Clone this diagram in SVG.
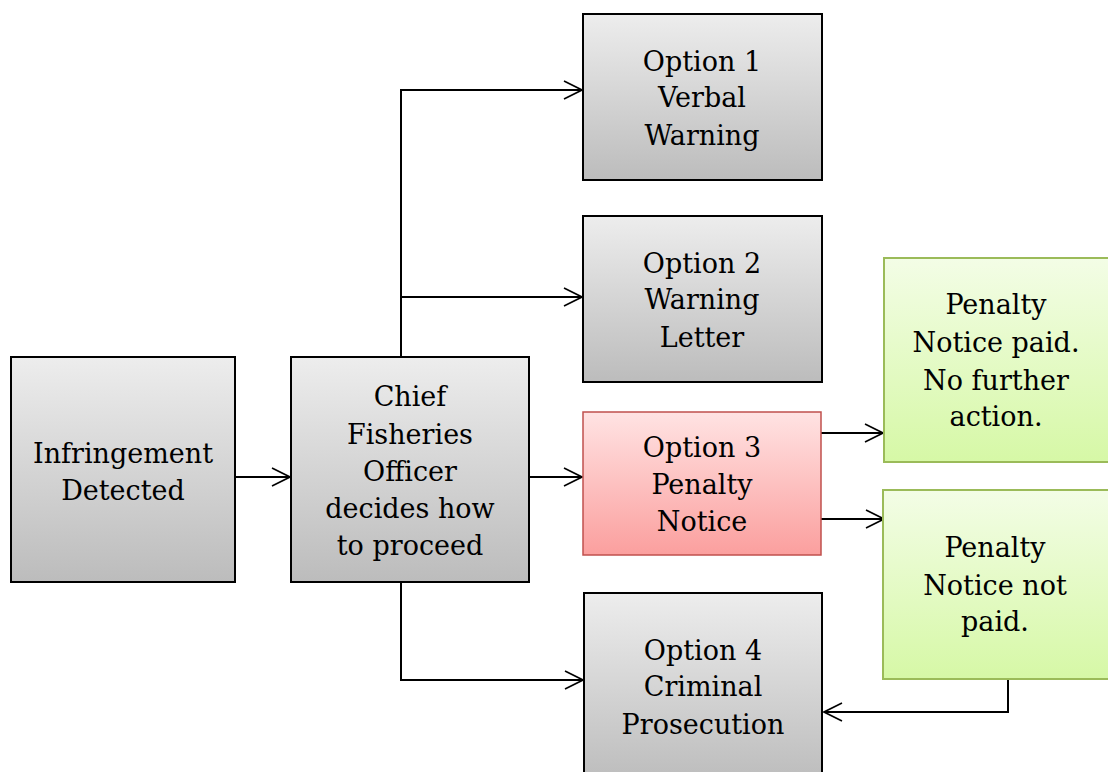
<svg xmlns="http://www.w3.org/2000/svg" width="1108" height="772" viewBox="0 0 1108 772">
<defs>
<linearGradient id="gGray" x1="0" y1="0" x2="0" y2="1"><stop offset="0" stop-color="#ededed"/><stop offset="1" stop-color="#bcbcbc"/></linearGradient>
<linearGradient id="gRed" x1="0" y1="0" x2="0" y2="1"><stop offset="0" stop-color="#ffe3e3"/><stop offset="1" stop-color="#fb9f9e"/></linearGradient>
<linearGradient id="gGreen" x1="0" y1="0" x2="0" y2="1"><stop offset="0" stop-color="#f3fde6"/><stop offset="1" stop-color="#d6f8a6"/></linearGradient>
<marker id="arr" viewBox="0 0 20 20" refX="19" refY="10" markerWidth="20" markerHeight="20" markerUnits="userSpaceOnUse" orient="auto">
<path d="M1,1 L19,10 L1,19" fill="none" stroke="#000" stroke-width="1.6"/>
</marker>
<style>
.gray{fill:url(#gGray);stroke:#000;stroke-width:2}
.red{fill:url(#gRed);stroke:#c0504d;stroke-width:1.5}
.green{fill:url(#gGreen);stroke:#9bbb59;stroke-width:2}
text{font-family:"DejaVu Serif","Liberation Serif",serif;font-size:27px;fill:#000;text-anchor:middle}
.c{fill:none;stroke:#000;stroke-width:2;marker-end:url(#arr)}
</style>
</defs>
<g id="connectors">
<path class="c" d="M235,477 H290"/>
<path class="c" d="M401,357 V90 H582"/>
<path class="c" d="M401,297 H582"/>
<path class="c" d="M529,477 H582"/>
<path class="c" d="M401,582 V680 H583"/>
<path class="c" d="M821,433 H883"/>
<path class="c" d="M821,519 H884"/>
<path class="c" d="M1008,678 V712 H824"/>
</g>
<g id="infringement"><rect class="gray" x="11" y="357" width="224" height="225"/><text x="123" y="463">Infringement</text><text x="123" y="500">Detected</text></g>
<g id="chief"><rect class="gray" x="291" y="357" width="238" height="225"/><text x="410" y="406">Chief</text><text x="410" y="444">Fisheries</text><text x="410" y="481">Officer</text><text x="410" y="518">decides how</text><text x="410" y="555">to proceed</text></g>
<g id="option1"><rect class="gray" x="583" y="14" width="239" height="166"/><text x="702" y="71">Option 1</text><text x="702" y="107">Verbal</text><text x="702" y="145">Warning</text></g>
<g id="option2"><rect class="gray" x="583" y="216" width="239" height="166"/><text x="702" y="273">Option 2</text><text x="702" y="309">Warning</text><text x="702" y="347">Letter</text></g>
<g id="option3"><rect class="red" x="583" y="412" width="238" height="143"/><text x="702" y="457">Option 3</text><text x="702" y="494">Penalty</text><text x="702" y="531">Notice</text></g>
<g id="option4"><rect class="gray" x="584" y="593" width="238" height="190"/><text x="703" y="660">Option 4</text><text x="703" y="696">Criminal</text><text x="703" y="734">Prosecution</text></g>
<g id="paid"><rect class="green" x="884" y="258" width="230" height="204"/><text x="996" y="314">Penalty</text><text x="996" y="352">Notice paid.</text><text x="996" y="390">No further</text><text x="996" y="426">action.</text></g>
<g id="notpaid"><rect class="green" x="883" y="490" width="231" height="189"/><text x="995" y="557">Penalty</text><text x="995" y="595">Notice not</text><text x="995" y="631">paid.</text></g>
</svg>
